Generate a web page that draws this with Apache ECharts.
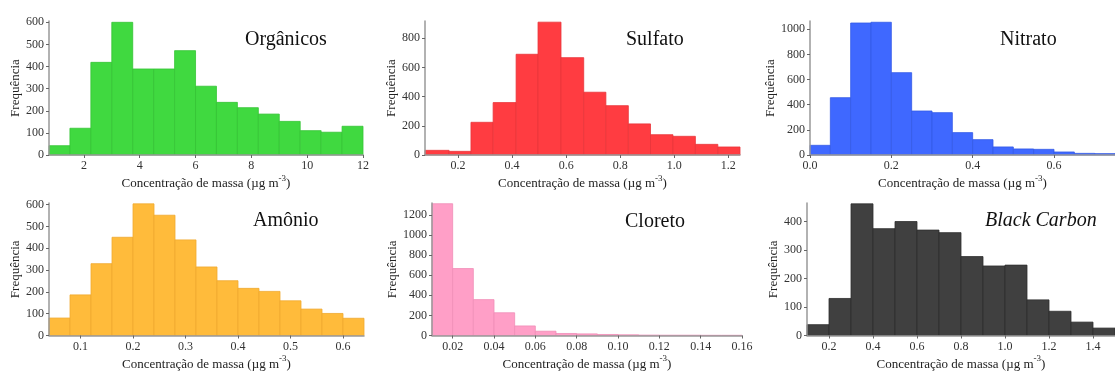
<!DOCTYPE html>
<html>
<head>
<meta charset="utf-8">
<script src="https://cdn.jsdelivr.net/npm/echarts@6/dist/echarts.min.js"></script>
<style>
  html, body { margin: 0; padding: 0; background: #fff; }
  #chart { width: 1115px; height: 372px; }
</style>
</head>
<body>
<div id="chart"></div>
<script>
// bin edges and counts per species
const organicosEdges = [0.75, 1.5, 2.25, 3.0, 3.75, 4.5, 5.25, 6.0, 6.75, 7.5, 8.25, 9.0, 9.75, 10.5, 11.25, 12.0]
const organicosCounts = [42, 121, 419, 600, 389, 389, 472, 311, 238, 214, 185, 152, 110, 103, 130]
const organicosXTicks = [2, 4, 6, 8, 10, 12]
const organicosYTicks = [0, 100, 200, 300, 400, 500, 600]

const sulfatoEdges = [0.078, 0.167, 0.248, 0.33, 0.415, 0.496, 0.581, 0.665, 0.747, 0.83, 0.912, 0.995, 1.078, 1.161, 1.243]
const sulfatoCounts = [32, 25, 224, 359, 690, 910, 667, 430, 338, 213, 139, 128, 73, 55]
const sulfatoXTicks = [0.2, 0.4, 0.6, 0.8, 1.0, 1.2]
const sulfatoYTicks = [0, 200, 400, 600, 800]

const nitratoEdges = [0, 0.05, 0.1, 0.15, 0.2, 0.25, 0.3, 0.35, 0.4, 0.45, 0.5, 0.55, 0.6, 0.65, 0.7, 0.75]
const nitratoCounts = [77, 456, 1050, 1056, 655, 350, 337, 178, 122, 64, 48, 45, 24, 13, 11]
const nitratoXTicks = [0.0, 0.2, 0.4, 0.6]
const nitratoYTicks = [0, 200, 400, 600, 800, 1000]

const amonioEdges = [0.04, 0.08, 0.12, 0.16, 0.2, 0.24, 0.28, 0.32, 0.36, 0.4, 0.44, 0.48, 0.52, 0.56, 0.6, 0.64]
const amonioCounts = [80, 186, 329, 450, 603, 551, 438, 314, 251, 216, 202, 159, 121, 101, 79]
const amonioXTicks = [0.1, 0.2, 0.3, 0.4, 0.5, 0.6]
const amonioYTicks = [0, 100, 200, 300, 400, 500, 600]

const cloretoEdges = [0.01, 0.02, 0.03, 0.04, 0.05, 0.06, 0.07, 0.08, 0.09, 0.1, 0.11, 0.12, 0.13, 0.14, 0.15, 0.16]
const cloretoCounts = [1311, 666, 357, 226, 95, 43, 20, 16, 10, 7, 4, 3, 3, 2, 2]
const cloretoXTicks = [0.02, 0.04, 0.06, 0.08, 0.10, 0.12, 0.14, 0.16]
const cloretoYTicks = [0, 200, 400, 600, 800, 1000, 1200]

const bcEdges = [0.1, 0.2, 0.3, 0.4, 0.5, 0.6, 0.7, 0.8, 0.9, 1.0, 1.1, 1.2, 1.3, 1.4, 1.5]
const bcCounts = [38, 130, 462, 375, 400, 370, 361, 277, 244, 247, 125, 85, 47, 26]
const bcXTicks = [0.2, 0.4, 0.6, 0.8, 1.0, 1.2, 1.4]
const bcYTicks = [0, 100, 200, 300, 400]

const FONT = 'Liberation Serif, Times New Roman, serif'

const panels = [
  { title: 'Orgânicos', edges: organicosEdges, counts: organicosCounts, xTicks: organicosXTicks, yTicks: organicosYTicks,
    dec: 0, yMax: 606, color: '#40d940', border: '#35c435',
    grid: { left: 49, top: 21, width: 314, height: 134 }, yGap: 24, titleX: 245, titleY: 40 },
  { title: 'Sulfato', edges: sulfatoEdges, counts: sulfatoCounts, xTicks: sulfatoXTicks, yTicks: sulfatoYTicks,
    dec: 1, yMax: 918, color: '#ff3c41', border: '#e8353a',
    grid: { left: 425, top: 21, width: 315, height: 134 }, yGap: 22, titleX: 626, titleY: 40 },
  { title: 'Nitrato', edges: nitratoEdges, counts: nitratoCounts, xTicks: nitratoXTicks, yTicks: nitratoYTicks,
    dec: 1, yMax: 1066, color: '#3f68ff', border: '#345be6',
    grid: { left: 810, top: 21, width: 308, height: 134 }, yGap: 28, titleX: 1000, titleY: 40 },
  { title: 'Amônio', edges: amonioEdges, counts: amonioCounts, xTicks: amonioXTicks, yTicks: amonioYTicks,
    dec: 1, yMax: 607, color: '#ffbb3b', border: '#f0aa30',
    grid: { left: 49, top: 203, width: 315, height: 134 }, yGap: 24, titleX: 253, titleY: 221 },
  { title: 'Cloreto', edges: cloretoEdges, counts: cloretoCounts, xTicks: cloretoXTicks, yTicks: cloretoYTicks,
    dec: 2, yMax: 1318, color: '#ff9fc7', border: '#f08eb7',
    grid: { left: 432, top: 203, width: 310, height: 134 }, yGap: 30, titleX: 625, titleY: 222 },
  { title: 'Black Carbon', edges: bcEdges, counts: bcCounts, xTicks: bcXTicks, yTicks: bcYTicks,
    dec: 1, yMax: 465, color: '#404040', border: '#2e2e2e', italic: true,
    grid: { left: 807, top: 203, width: 314, height: 134 }, yGap: 23, titleX: 985, titleY: 221 },
]

function renderBin(params, api) {
  const p0 = api.coord([api.value(0), 0])
  const p1 = api.coord([api.value(1), api.value(2)])
  return {
    type: 'rect',
    shape: { x: p0[0], y: p1[1], width: p1[0] - p0[0], height: p0[1] - p1[1] },
    style: api.style(),
  }
}

const chart = echarts.init(document.getElementById('chart'))

const grid = [], xAxis = [], yAxis = [], series = [], graphic = []

panels.forEach((p, i) => {
  grid.push(p.grid)
  xAxis.push({
    type: 'value',
    gridIndex: i,
    min: p.edges[0],
    max: p.edges[p.edges.length - 1],
    z: 5,
    name: 'Concentração de massa (µg m{sup|-3})',
    nameLocation: 'middle',
    nameGap: 19,
    nameTextStyle: {
      fontFamily: FONT, fontSize: 13, color: '#222',
      rich: { sup: { fontFamily: FONT, fontSize: 9, color: '#222', padding: [0, 0, 11, 0] } },
    },
    splitLine: { show: false },
    axisLine: { show: true, onZero: false, lineStyle: { color: '#999', width: 1.5 } },
    axisTick: { show: true, length: 3, customValues: p.xTicks, lineStyle: { color: '#666' } },
    axisLabel: {
      customValues: p.xTicks, margin: 5, color: '#333', fontFamily: FONT, fontSize: 12,
      formatter: v => v.toFixed(p.dec),
    },
  })
  yAxis.push({
    type: 'value',
    gridIndex: i,
    min: 0,
    max: p.yMax,
    z: 5,
    name: 'Frequência',
    nameLocation: 'middle',
    nameRotate: 90,
    nameGap: p.yGap,
    nameTextStyle: { fontFamily: FONT, fontSize: 13, color: '#222' },
    splitLine: { show: false },
    axisLine: { show: true, lineStyle: { color: '#999', width: 1.5 } },
    axisTick: { show: true, length: 3, customValues: p.yTicks, lineStyle: { color: '#666' } },
    axisLabel: {
      customValues: p.yTicks, margin: 5, color: '#333', fontFamily: FONT, fontSize: 12,
      formatter: v => String(v),
    },
  })
  series.push({
    type: 'custom',
    xAxisIndex: i,
    yAxisIndex: i,
    renderItem: renderBin,
    encode: { x: [0, 1], y: 2 },
    itemStyle: { color: p.color, borderColor: p.border, borderWidth: 0.8 },
    data: p.counts.map((n, k) => [p.edges[k], p.edges[k + 1], n]),
  })
  graphic.push({
    type: 'text',
    x: p.titleX,
    y: p.titleY,
    z: 10,
    style: {
      text: p.title,
      fontFamily: FONT,
      fontSize: 20,
      fontStyle: p.italic ? 'italic' : 'normal',
      fill: '#111',
      verticalAlign: 'middle',
    },
  })
})

chart.setOption({
  animation: false,
  grid,
  xAxis,
  yAxis,
  series,
  graphic,
})
</script>
</body>
</html>
